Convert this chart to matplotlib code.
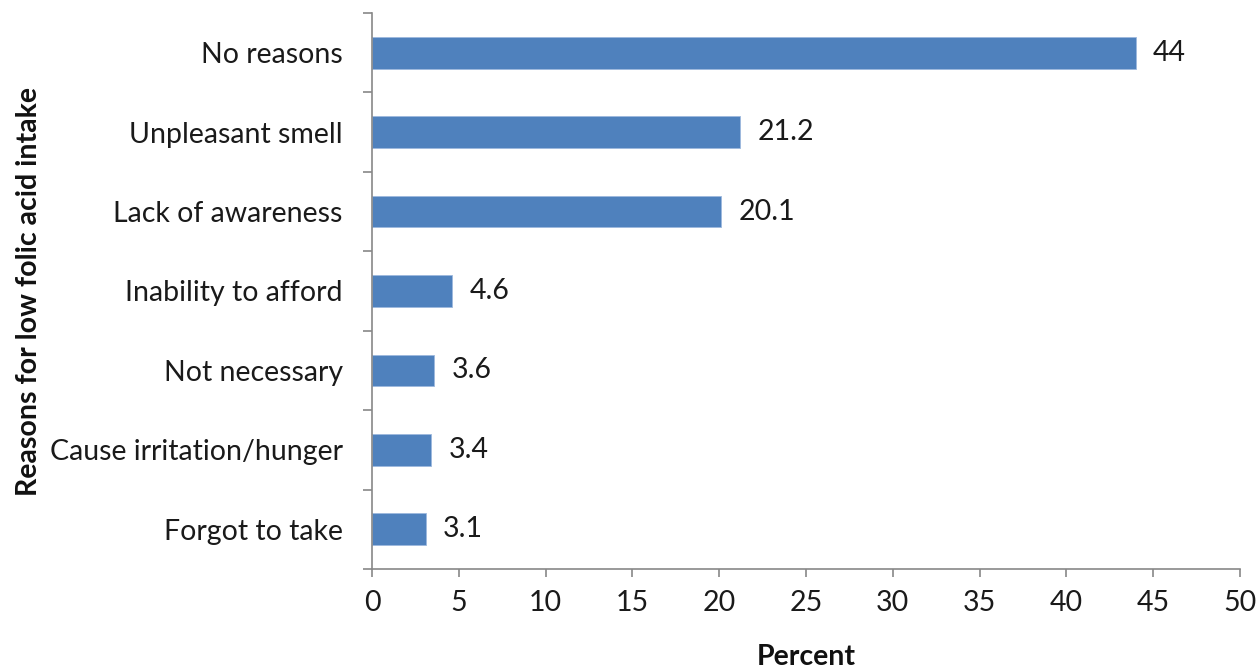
import matplotlib
matplotlib.use("Agg")
import matplotlib.pyplot as plt

categories = ["No reasons", "Unpleasant smell", "Lack of awareness", "Inability to afford",
              "Not necessary", "Cause irritation/hunger", "Forgot to take"]
values = [44, 21.2, 20.1, 4.6, 3.6, 3.4, 3.1]
value_labels = ["44", "21.2", "20.1", "4.6", "3.6", "3.4", "3.1"]
xticks = [0, 5, 10, 15, 20, 25, 30, 35, 40, 45, 50]

plt.rcParams['font.family'] = ['Lato', 'DejaVu Sans']

FS = 20.5
fig = plt.figure(figsize=(12.59, 6.68), dpi=100)
ax = fig.add_axes([372/1259, 1-569/668, (1240-372)/1259, (569-13)/668])

n = len(categories)
ypos = list(range(n))[::-1]
ax.barh(ypos, values, height=0.4, color='#4F81BD', edgecolor='#9DB9DE', linewidth=0.6)
for y, v, lab in zip(ypos, values, value_labels):
    ax.text(v + 1.0, y, lab, va='center', ha='left', fontsize=FS, color='#1a1a1a')

ax.set_xlim(0, 50)
ax.set_ylim(-0.5, n - 0.5)
ax.set_xticks(xticks)
ax.set_xticklabels([str(t) for t in xticks], fontsize=FS, color='#1a1a1a')
ax.set_yticks(ypos)
ax.set_yticklabels(categories, fontsize=FS, color='#1a1a1a')
ax.set_yticks([i - 0.5 for i in range(n + 1)], minor=True)
ax.tick_params(axis='y', which='major', length=0, pad=21)
ax.tick_params(axis='y', which='minor', length=6.5, color='#888888', width=1.2)
ax.tick_params(axis='x', length=6, color='#888888', width=1.2, pad=9)

for s in ['top', 'right']:
    ax.spines[s].set_visible(False)
for s in ['left', 'bottom']:
    ax.spines[s].set_color('#888888')
    ax.spines[s].set_linewidth(1.2)

ax.set_xlabel("Percent", fontsize=FS, fontweight='bold', labelpad=20, color='#111111')
ax.set_ylabel("Reasons for low folic acid intake", fontsize=FS, fontweight='bold', labelpad=6, color='#111111')

fig.savefig("out.png", dpi=100)
